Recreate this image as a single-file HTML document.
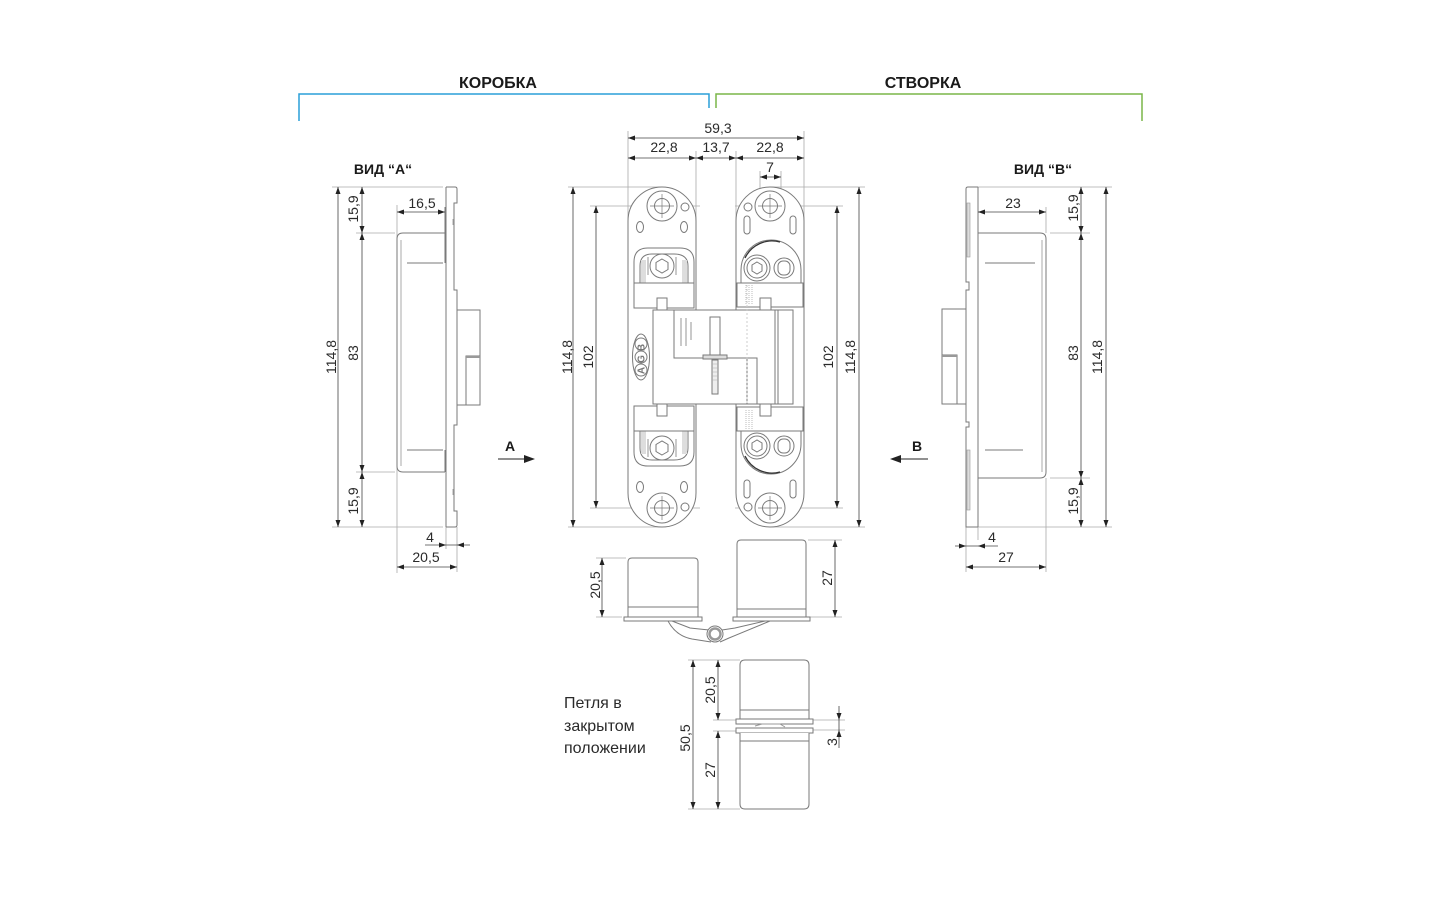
<!DOCTYPE html>
<html><head><meta charset="utf-8">
<style>
html,body{margin:0;padding:0;background:#fff;}
svg{display:block;}
.t{font-family:"Liberation Sans Narrow","Liberation Sans",sans-serif;fill:#2a2a2a;font-size:14px;}
.h{font-family:"Liberation Sans",sans-serif;fill:#1a1a1a;font-weight:bold;}
.p{font-family:"Liberation Sans",sans-serif;fill:#2a2a2a;font-size:16px;}
</style></head><body>
<svg width="1440" height="900" viewBox="0 0 1440 900" xmlns="http://www.w3.org/2000/svg">
<defs>
<marker id="m" viewBox="0 0 7 5" refX="7" refY="2.5" markerWidth="7" markerHeight="5" markerUnits="userSpaceOnUse" orient="auto-start-reverse"><path d="M0,0L7,2.5L0,5z" fill="#222"/></marker>
<g id="th" stroke="#7a7a7a" stroke-width="1" fill="none">
  <circle cx="662" cy="206" r="15"/>
  <circle cx="662" cy="206" r="7.5"/>
  <path d="M662,194v24M650,206h24" stroke-width=".7"/>
  <circle cx="685" cy="207" r="4"/>
  <ellipse cx="640" cy="227" rx="3.5" ry="5.5"/>
  <ellipse cx="684" cy="227" rx="3.5" ry="5.5"/>
  <path d="M634,283V262Q634,248 648,248H680Q694,248 694,262V283" fill="#fff"/>
  <path d="M640,283V266Q640,254 652,254H674Q688,254 688,266V283"/>
  <rect x="641" y="260" width="5" height="23" fill="#ddd" stroke="none"/>
  <rect x="682" y="260" width="5" height="23" fill="#ddd" stroke="none"/>
  <circle cx="662" cy="266" r="12"/>
  <path d="M662,259L668,262.5V269.5L662,273L656,269.5V262.5Z"/>
  <path d="M648,257v18M676,257v18" stroke-width=".8"/>
  <rect x="634" y="283" width="60" height="25" fill="#fff"/>
  <rect x="657" y="298" width="10" height="12" fill="#fff"/>
  <circle cx="770" cy="206" r="15"/>
  <circle cx="770" cy="206" r="7.5"/>
  <path d="M770,194v24M758,206h24" stroke-width=".7"/>
  <circle cx="748" cy="207" r="4"/>
  <rect x="744" y="216" width="6" height="18" rx="3"/>
  <rect x="790" y="216" width="6" height="18" rx="3"/>
  <path d="M741,283V270A30,30 0 0 1 801,270V283" fill="#fff"/>
  <path d="M745,258A30,30 0 0 1 780,242" stroke="#333" stroke-width="1.3"/>
  <circle cx="757" cy="268" r="13"/>
  <circle cx="757" cy="268" r="10"/>
  <path d="M757,262L762,265V271L757,274L752,271V265Z"/>
  <circle cx="784" cy="268" r="10"/>
  <rect x="778" y="261" width="12" height="14" rx="5"/>
  <rect x="737" y="283" width="66" height="24" fill="#fff"/>
  <path d="M746,285v20M749,285v20M752,285v20" stroke="#bbb" stroke-dasharray="1 1"/>
  <rect x="760" y="298" width="11" height="12" fill="#fff"/>
</g>
</defs>

<!-- Titles and brackets -->
<text class="h" x="498" y="88" font-size="16" text-anchor="middle">КОРОБКА</text>
<text class="h" x="923" y="88" font-size="16" text-anchor="middle">СТВОРКА</text>
<path d="M299,121V94H709V108" stroke="#2a9fd8" stroke-width="1.5" fill="none"/>
<path d="M716,108V94H1142V121" stroke="#7ab648" stroke-width="1.5" fill="none"/>

<!-- ================= CENTER HINGE ================= -->
<g stroke="#aaa" stroke-width=".8" fill="none">
  <path d="M628,131V221M804,131V221M696,151V221M736,151V221M760,171V200M781,171V200"/>
  <path d="M568,187H662M770,187H865M568,527H662M770,527H865"/>
  <path d="M590,206H700M735,206H843M590,508H700M735,508H843"/>
</g>
<g stroke="#444" stroke-width=".8" fill="none" marker-start="url(#m)" marker-end="url(#m)">
  <line x1="628" y1="138" x2="804" y2="138"/>
  <line x1="628" y1="158" x2="696" y2="158"/>
  <line x1="696" y1="158" x2="736" y2="158"/>
  <line x1="736" y1="158" x2="804" y2="158"/>
  <line x1="760" y1="177" x2="781" y2="177"/>
  <line x1="573" y1="187" x2="573" y2="527"/>
  <line x1="596" y1="206" x2="596" y2="508"/>
  <line x1="837" y1="206" x2="837" y2="508"/>
  <line x1="859" y1="187" x2="859" y2="527"/>
</g>
<text class="t" x="718" y="133" text-anchor="middle">59,3</text>
<text class="t" x="664" y="152" text-anchor="middle">22,8</text>
<text class="t" x="716" y="152" text-anchor="middle">13,7</text>
<text class="t" x="770" y="152" text-anchor="middle">22,8</text>
<text class="t" x="770" y="172" text-anchor="middle">7</text>
<text class="t" transform="translate(572,357) rotate(-90)" text-anchor="middle">114,8</text>
<text class="t" transform="translate(593,357) rotate(-90)" text-anchor="middle">102</text>
<text class="t" transform="translate(833,357) rotate(-90)" text-anchor="middle">102</text>
<text class="t" transform="translate(855,357) rotate(-90)" text-anchor="middle">114,8</text>

<!-- plates -->
<g stroke="#7a7a7a" stroke-width="1" fill="#fff">
  <path d="M628,221A34,34 0 0 1 696,221V493A34,34 0 0 1 628,493Z"/>
  <path d="M736,221A34,34 0 0 1 804,221V493A34,34 0 0 1 736,493Z"/>
</g>
<use href="#th"/>
<use href="#th" transform="matrix(1 0 0 -1 0 714)"/>

<!-- middle body -->
<g stroke="#7a7a7a" stroke-width="1" fill="#fff">
  <rect x="653" y="310" width="125" height="94"/>
  <rect x="778" y="310" width="15" height="94"/>
  <path d="M674,310V358H757V404M747,358V404M775,310V404" fill="none"/>
  <path d="M681,318V346M686,318V346M691,322V340" fill="none" stroke-width=".8"/>
  <rect x="710" y="317" width="10" height="40"/>
  <rect x="703" y="355" width="24" height="4" fill="#ddd"/>
  <rect x="712" y="360" width="6" height="34" fill="#eee"/>
  <path d="M712,364h6M712,368h6M712,372h6M712,376h6M712,380h6" stroke="#aaa" stroke-width=".6" fill="none"/>
  <path d="M747,285V404" stroke="#ccc" fill="none" stroke-dasharray="2 2"/>
  <ellipse cx="641" cy="357" rx="8.5" ry="23"/>
  <circle cx="641" cy="344" r="6"/>
  <circle cx="641" cy="357" r="6"/>
  <circle cx="641" cy="370" r="6"/>
</g>
<text transform="translate(644.5,357) rotate(-90)" text-anchor="middle" font-family="Liberation Sans,sans-serif" font-size="10" font-weight="bold" fill="#777" letter-spacing="4">AGB</text>

<!-- ================= VIEW A ================= -->
<text class="h" x="383" y="174" font-size="14" text-anchor="middle">ВИД “А“</text>
<g stroke="#aaa" stroke-width=".8" fill="none">
  <path d="M332,187H443M332,527H443M356,233H395M356,472H395"/>
  <path d="M397,205V573M457,527V572M446,527V549"/>
</g>
<rect x="446" y="187" width="10" height="340" fill="#fff"/>
<g stroke="#7a7a7a" stroke-width="1" fill="none">
  <path d="M446,187H455Q457,187 457,189V203H454V290H457V310"/>
  <path d="M457,405V425H454V511H457V525Q457,527 455,527H446"/>
  <path d="M446,187V527"/>
  <rect x="457" y="310" width="23" height="95" fill="#fff"/>
  <path d="M466,405V356H480"/>
  <line x1="466" y1="357" x2="480" y2="357" stroke="#999" stroke-width="2"/>
  <path d="M445,233H403Q397,233 397,239V466Q397,472 403,472H445"/>
  <path d="M401,240V466" stroke="#aaa"/>
  <path d="M407,263H443M407,450H443M445,207V263M445,450V472"/>
  <path d="M453,219v6M453,489v6" stroke="#aaa"/>
</g>
<g stroke="#444" stroke-width=".8" fill="none" marker-start="url(#m)" marker-end="url(#m)">
  <line x1="338" y1="187" x2="338" y2="527"/>
  <line x1="362" y1="187" x2="362" y2="233"/>
  <line x1="362" y1="233" x2="362" y2="472"/>
  <line x1="362" y1="472" x2="362" y2="527"/>
  <line x1="397" y1="212" x2="445" y2="212"/>
  <line x1="397" y1="567" x2="457" y2="567"/>
</g>
<path d="M425,545H470" stroke="#444" stroke-width=".8"/>
<path d="M446,545L439,542.5V547.5ZM457,545L464,542.5V547.5Z" fill="#222"/>
<text class="t" transform="translate(336,357) rotate(-90)" text-anchor="middle">114,8</text>
<text class="t" transform="translate(358,209) rotate(-90)" text-anchor="middle">15,9</text>
<text class="t" transform="translate(358,353) rotate(-90)" text-anchor="middle">83</text>
<text class="t" transform="translate(358,501) rotate(-90)" text-anchor="middle">15,9</text>
<text class="t" x="422" y="208" text-anchor="middle">16,5</text>
<text class="t" x="430" y="542" text-anchor="middle">4</text>
<text class="t" x="426" y="562" text-anchor="middle">20,5</text>

<!-- ================= VIEW B ================= -->
<text class="h" x="1043" y="174" font-size="14" text-anchor="middle">ВИД “В“</text>
<g stroke="#aaa" stroke-width=".8" fill="none">
  <path d="M978,187H1112M966,527H1112M1050,233H1090M1050,478H1090"/>
  <path d="M978,205V540M1046,207V233M1046,478V572M966,527V572"/>
</g>
<rect x="967" y="187" width="11" height="340" fill="#fff"/>
<g stroke="#7a7a7a" stroke-width="1" fill="none">
  <path d="M978,187H968Q966,187 966,189V282H969V290H966V309"/>
  <path d="M966,404V422H969V427H966V527H978"/>
  <path d="M978,187V527"/>
  <rect x="967" y="203" width="3" height="54" fill="#ddd" stroke="#999" stroke-width=".6"/>
  <rect x="967" y="450" width="3" height="60" fill="#ddd" stroke="#999" stroke-width=".6"/>
  <rect x="942" y="309" width="24" height="95" fill="#fff"/>
  <path d="M957,404V355H942"/>
  <line x1="942" y1="356" x2="957" y2="356" stroke="#999" stroke-width="2"/>
  <path d="M978,233H1040Q1046,233 1046,239V472Q1046,478 1040,478H978"/>
  <path d="M1042,240V472" stroke="#aaa"/>
  <path d="M985,263H1035M985,450H1023"/>
</g>
<g stroke="#444" stroke-width=".8" fill="none" marker-start="url(#m)" marker-end="url(#m)">
  <line x1="1106" y1="187" x2="1106" y2="527"/>
  <line x1="1081" y1="187" x2="1081" y2="233"/>
  <line x1="1081" y1="233" x2="1081" y2="478"/>
  <line x1="1081" y1="478" x2="1081" y2="527"/>
  <line x1="978" y1="212" x2="1046" y2="212"/>
  <line x1="966" y1="567" x2="1046" y2="567"/>
</g>
<path d="M955,546H998" stroke="#444" stroke-width=".8"/>
<path d="M966,546L959,543.5V548.5ZM978,546L985,543.5V548.5Z" fill="#222"/>
<text class="t" transform="translate(1102,357) rotate(-90)" text-anchor="middle">114,8</text>
<text class="t" transform="translate(1078,208) rotate(-90)" text-anchor="middle">15,9</text>
<text class="t" transform="translate(1078,353) rotate(-90)" text-anchor="middle">83</text>
<text class="t" transform="translate(1078,501) rotate(-90)" text-anchor="middle">15,9</text>
<text class="t" x="1013" y="208" text-anchor="middle">23</text>
<text class="t" x="992" y="542" text-anchor="middle">4</text>
<text class="t" x="1006" y="562" text-anchor="middle">27</text>

<!-- A / B arrows -->
<text class="h" x="510" y="451" font-size="14" text-anchor="middle">A</text>
<path d="M498,459H526" stroke="#222" stroke-width="1"/>
<path d="M535,459L524,455V463Z" fill="#222"/>
<text class="h" x="917" y="451" font-size="14" text-anchor="middle">B</text>
<path d="M900,459H928" stroke="#222" stroke-width="1"/>
<path d="M890,459L901,455V463Z" fill="#222"/>

<!-- ================= BOTTOM (open) VIEW ================= -->
<g stroke="#aaa" stroke-width=".8" fill="none">
  <path d="M596,558H626M596,617H622M808,540H842M810,617H842"/>
</g>
<g stroke="#7a7a7a" stroke-width="1" fill="none">
  <path d="M668,621Q676,636 692,639L711,642M672,621L690,628L709,630"/>
  <path d="M770,621L729,638L720,642M765,621L735,628L722,630"/>
  <path d="M628,617V562Q628,558 632,558H694Q698,558 698,562V617" fill="#fff"/>
  <line x1="628" y1="607" x2="698" y2="607"/>
  <path d="M624,617H702V621H624Z" fill="#fff"/>
  <path d="M737,617V544Q737,540 741,540H802Q806,540 806,544V617" fill="#fff"/>
  <line x1="737" y1="609" x2="806" y2="609"/>
  <path d="M733,617H810V621H733Z" fill="#fff"/>
  <circle cx="715" cy="634" r="8" fill="#fff"/>
  <circle cx="715" cy="634" r="5.5" stroke="#999" stroke-width="2.5"/>
</g>
<g stroke="#444" stroke-width=".8" fill="none" marker-start="url(#m)" marker-end="url(#m)">
  <line x1="602" y1="558" x2="602" y2="617"/>
  <line x1="835" y1="540" x2="835" y2="617"/>
</g>
<text class="t" transform="translate(600,585) rotate(-90)" text-anchor="middle">20,5</text>
<text class="t" transform="translate(832,578) rotate(-90)" text-anchor="middle">27</text>

<!-- ================= CLOSED VIEW ================= -->
<text class="p" x="564" y="708">Петля в</text>
<text class="p" x="564" y="731">закрытом</text>
<text class="p" x="564" y="753">положении</text>
<g stroke="#aaa" stroke-width=".8" fill="none">
  <path d="M688,660H740M688,809H740M713,720H738M713,731H738M790,720H845M790,730H845"/>
</g>
<g stroke="#7a7a7a" stroke-width="1" fill="none">
  <path d="M740,719V665Q740,660 745,660H804Q809,660 809,665V719" fill="#fff"/>
  <line x1="740" y1="710" x2="809" y2="710"/>
  <path d="M736,719H813V724H736Z" fill="#fff"/>
  <path d="M736,728H813V733H736Z" fill="#fff"/>
  <path d="M740,733V804Q740,809 745,809H804Q809,809 809,804V733" fill="#fff"/>
  <line x1="740" y1="741" x2="809" y2="741"/>
  <path d="M755,726L762,724H780L785,727" stroke="#999"/>
</g>
<g stroke="#444" stroke-width=".8" fill="none" marker-start="url(#m)" marker-end="url(#m)">
  <line x1="693" y1="660" x2="693" y2="809"/>
  <line x1="718" y1="660" x2="718" y2="720"/>
  <line x1="718" y1="731" x2="718" y2="809"/>
</g>
<path d="M839,706V748" stroke="#444" stroke-width=".8"/>
<path d="M839,720L836.5,713H841.5ZM839,730L836.5,737H841.5Z" fill="#222"/>
<text class="t" transform="translate(690,738) rotate(-90)" text-anchor="middle">50,5</text>
<text class="t" transform="translate(715,690) rotate(-90)" text-anchor="middle">20,5</text>
<text class="t" transform="translate(715,770) rotate(-90)" text-anchor="middle">27</text>
<text class="t" transform="translate(837,742) rotate(-90)" text-anchor="middle">3</text>
</svg>
</body></html>
